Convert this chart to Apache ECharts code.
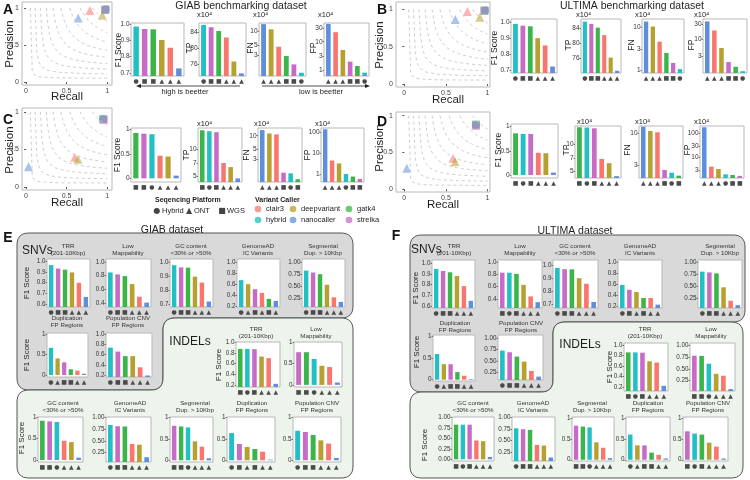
<!DOCTYPE html>
<html><head><meta charset="utf-8">
<script src="https://cdn.jsdelivr.net/npm/echarts@6/dist/echarts.min.js"></script>
<style>html,body{margin:0;padding:0;background:#fff}#c{width:750px;height:480px}</style>
</head><body><div id="c"></div>
<script>
// ================= DATA =================
const CALLERS = ['clair3','deepvariant','gatk4','hybrid','nanocaller','strelka'];
const CALLER_COLORS = ['#F8766D','#B5A030','#3AB54A','#22BFC5','#5F8FDB','#C86BC6'];
const CALLER_PLATFORM = ['ONT','ONT','WGS','Hybrid','ONT','WGS'];
const PLATFORMS = ['Hybrid','ONT','WGS'];
const PLATFORM_GLYPH = ['\u25CF','\u25B2','\u25A0'];
const PLATFORM_SYMBOL = ['circle','triangle','rect'];
const ISO_F1 = [0.1,0.2,0.3,0.4,0.5,0.6,0.7,0.8,0.9];
const PR_TICKS = [0,0.5,1];

// precision / recall (order = CALLERS)
const A_recall    = [0.787,0.940,0.975,0.985,0.643,0.980];
const A_precision = [0.964,0.900,0.972,0.985,0.864,0.978];
const B_recall    = [0.758,0.907,0.962,0.972,0.613,0.966];
const B_precision = [0.973,0.896,0.982,0.990,0.864,0.986];
const C_recall    = [0.600,0.640,0.952,0.948,0.030,0.958];
const C_precision = [0.396,0.370,0.905,0.900,0.270,0.890];
const D_recall    = [0.585,0.610,0.862,0.860,0.030,0.860];
const D_precision = [0.420,0.375,0.880,0.875,0.285,0.862];

// Panel A (GIAB)
const A_F1_order = ['hybrid','strelka','gatk4','deepvariant','clair3','nanocaller'];
const A_F1 = [0.986,0.971,0.969,0.903,0.855,0.727];
const A_F1_ticks = ['0.7','0.8','0.9','1.0'];
const A_TP_order = ['hybrid','strelka','gatk4','clair3','deepvariant','nanocaller'];
const A_TP = [85.8,85.25,84.3,82.7,76.7,73.75];
const A_TP_ticks = ['76','80','84'];
const A_FN_order = ['nanocaller','deepvariant','clair3','gatk4','strelka','hybrid'];
const A_FN = [14.1,10.9,4.6,2.9,1.92,1.27];
const A_FN_ticks = ['3','5','10'];
const A_FP_order = ['nanocaller','clair3','deepvariant','strelka','gatk4','hybrid'];
const A_FP = [42.7,21.7,5.1,1.97,1.38,0.8];
const A_FP_ticks = ['1','3','10','30'];
// Panel B (ULTIMA)
const B_F1_order = ['hybrid','strelka','gatk4','deepvariant','clair3','nanocaller'];
const B_F1 = [0.988,0.977,0.973,0.900,0.855,0.725];
const B_F1_ticks = ['0.7','0.8','0.9','1.0'];
const B_TP_order = ['hybrid','strelka','gatk4','clair3','deepvariant','nanocaller'];
const B_TP = [85.8,85.2,84.2,82.2,76.2,72.7];
const B_TP_ticks = ['76','80','84'];
const B_FN_order = ['nanocaller','deepvariant','clair3','gatk4','strelka','hybrid'];
const B_FN = [13.6,10.4,4.6,2.5,1.46,1.05];
const B_FN_ticks = ['1','3','10'];
const B_FP_order = ['nanocaller','clair3','deepvariant','strelka','gatk4','hybrid'];
const B_FP = [35.9,18.9,5.5,2.05,1.47,1.08];
const B_FP_ticks = ['3','10','30'];
// Panel C (GIAB)
const C_F1_order = ['gatk4','strelka','hybrid','clair3','deepvariant','nanocaller'];
const C_F1 = [0.925,0.912,0.900,0.460,0.445,0.055];
const C_F1_ticks = ['0','0.5','1'];
const C_TP_order = ['gatk4','hybrid','strelka','clair3','deepvariant','nanocaller'];
const C_TP = [16.4,16.0,15.6,7.0,6.3,4.7];
const C_TP_ticks = ['5','7','10'];
const C_FN_order = ['nanocaller','deepvariant','clair3','strelka','hybrid','gatk4'];
const C_FN = [13.3,11.2,10.7,1.53,1.48,1.1];
const C_FN_ticks = ['3','5','10'];
const C_FP_order = ['nanocaller','clair3','deepvariant','hybrid','gatk4','strelka'];
const C_FP = [139,4.5,3.3,1.04,0.78,0.6];
const C_FP_ticks = ['1','10','100'];
// Panel D (ULTIMA)
const D_F1_order = ['gatk4','hybrid','strelka','clair3','deepvariant','nanocaller'];
const D_F1 = [0.862,0.848,0.848,0.460,0.450,0.050];
const D_F1_ticks = ['0','0.5','1'];
const D_TP_order = ['gatk4','hybrid','strelka','clair3','deepvariant','nanocaller'];
const D_TP = [15.4,15.3,15.0,6.9,6.2,4.47];
const D_TP_ticks = ['5','7','10'];
const D_FN_order = ['nanocaller','deepvariant','clair3','strelka','hybrid','gatk4'];
const D_FN = [12.85,10.9,10.4,2.48,2.24,2.0];
const D_FN_ticks = ['3','10'];
const D_FP_order = ['nanocaller','clair3','deepvariant','hybrid','gatk4','strelka'];
const D_FP = [178,4.07,3.24,1.95,1.83,1.68];
const D_FP_ticks = ['3','10','30','100'];

// Panel E (GIAB stratified F1)
const STD_ORDER = ['hybrid','strelka','gatk4','deepvariant','clair3','nanocaller'];
const E_snv_trr_order = STD_ORDER;       const E_snv_trr = [0.962,0.930,0.920,0.894,0.797,0.666];
const E_snv_lowmap_order = STD_ORDER;    const E_snv_lowmap = [0.846,0.817,0.793,0.678,0.495,0.410];
const E_snv_gc_order = STD_ORDER;        const E_snv_gc = [0.980,0.964,0.962,0.898,0.855,0.720];
const E_snv_gnomad_order = ['hybrid','deepvariant','strelka','clair3','gatk4','nanocaller'];
const E_snv_gnomad = [0.667,0.594,0.503,0.436,0.327,0.290];
const E_snv_segdup_order = STD_ORDER;    const E_snv_segdup = [0.826,0.785,0.750,0.528,0.264,0.167];
const E_snv_dupfp_order = ['hybrid','deepvariant','strelka','gatk4','clair3','nanocaller'];
const E_snv_dupfp = [0.666,0.407,0.310,0.140,0.105,0.030];
const E_snv_popcnv_order = STD_ORDER;    const E_snv_popcnv = [0.737,0.660,0.570,0.570,0.350,0.190];
const E_indel_trr_order = ['gatk4','hybrid','strelka','deepvariant','clair3','nanocaller'];
const E_indel_trr = [0.880,0.880,0.875,0.735,0.705,0.220];
const E_indel_lowmap_order = ['strelka','gatk4','hybrid','deepvariant','clair3','nanocaller'];
const E_indel_lowmap = [0.770,0.770,0.610,0.450,0.420,0.055];
const E_indel_gc_order = ['gatk4','strelka','hybrid','clair3','deepvariant','nanocaller'];
const E_indel_gc = [0.920,0.905,0.890,0.450,0.420,0.055];
const E_indel_gnomad_order = ['hybrid','strelka','gatk4','clair3','deepvariant','nanocaller'];
const E_indel_gnomad = [0.843,0.815,0.810,0.430,0.415,0.143];
const E_indel_segdup_order = ['strelka','gatk4','hybrid','deepvariant','clair3','nanocaller'];
const E_indel_segdup = [0.806,0.790,0.767,0.442,0.318,0.047];
const E_indel_dupfp_order = ['hybrid','strelka','deepvariant','gatk4','clair3','nanocaller'];
const E_indel_dupfp = [0.635,0.380,0.310,0.264,0.200,0.016];
const E_indel_popcnv_order = ['hybrid','strelka','gatk4','deepvariant','clair3','nanocaller'];
const E_indel_popcnv = [0.690,0.660,0.590,0.465,0.390,0.054];

// Panel F (ULTIMA stratified F1)
const F_snv_trr_order = STD_ORDER;       const F_snv_trr = [0.946,0.927,0.915,0.880,0.785,0.647];
const F_snv_lowmap_order = ['strelka','hybrid','gatk4','deepvariant','clair3','nanocaller'];
const F_snv_lowmap = [0.830,0.830,0.810,0.630,0.440,0.345];
const F_snv_gc_order = STD_ORDER;        const F_snv_gc = [0.982,0.972,0.971,0.902,0.858,0.715];
const F_snv_gnomad_order = ['hybrid','strelka','deepvariant','gatk4','clair3','nanocaller'];
const F_snv_gnomad = [0.590,0.500,0.460,0.350,0.350,0.230];
const F_snv_segdup_order = STD_ORDER;    const F_snv_segdup = [0.806,0.790,0.770,0.480,0.200,0.110];
const F_snv_dupfp_order = ['hybrid','deepvariant','strelka','gatk4','clair3','nanocaller'];
const F_snv_dupfp = [0.590,0.357,0.357,0.175,0.090,0.015];
const F_snv_popcnv_order = STD_ORDER;    const F_snv_popcnv = [0.727,0.690,0.595,0.484,0.280,0.155];
const F_indel_trr_order = ['gatk4','hybrid','strelka','deepvariant','clair3','nanocaller'];
const F_indel_trr = [0.860,0.860,0.855,0.690,0.665,0.220];
const F_indel_lowmap_order = ['strelka','gatk4','hybrid','deepvariant','clair3','nanocaller'];
const F_indel_lowmap = [0.780,0.775,0.610,0.395,0.355,0.070];
const F_indel_gc_order = ['gatk4','hybrid','strelka','clair3','deepvariant','nanocaller'];
const F_indel_gc = [0.827,0.827,0.827,0.449,0.433,0.055];
const F_indel_gnomad_order = ['hybrid','strelka','gatk4','clair3','deepvariant','nanocaller'];
const F_indel_gnomad = [0.770,0.750,0.735,0.410,0.396,0.137];
const F_indel_segdup_order = ['strelka','gatk4','hybrid','deepvariant','clair3','nanocaller'];
const F_indel_segdup = [0.820,0.800,0.780,0.420,0.290,0.040];
const F_indel_dupfp_order = ['hybrid','deepvariant','strelka','gatk4','clair3','nanocaller'];
const F_indel_dupfp = [0.606,0.346,0.346,0.173,0.118,0.030];
const F_indel_popcnv_order = ['strelka','hybrid','gatk4','deepvariant','clair3','nanocaller'];
const F_indel_popcnv = [0.685,0.630,0.606,0.410,0.315,0.030];

const T_01 = ['0','0.5','1'];
const T_0110 = ['0.6','0.7','0.8','0.9','1.0'];
const T_0410 = ['0.4','0.6','0.8','1.0'];
const T_0710 = ['0.7','0.8','0.9','1.0'];
const T_0210 = ['0.2','0.4','0.6','0.8','1.0'];
const T_q = ['0.25','0.50','0.75','1.00'];
const T_q0 = ['0.00','0.25','0.50','0.75','1.00'];

// ================= BUILD =================
const FONT = 'Liberation Sans, Arial, Helvetica, sans-serif';
const grids = [], xAxes = [], yAxes = [], series = [], gfx = [];
function colorOf(c){ return CALLER_COLORS[CALLERS.indexOf(c)]; }
function platIdx(c){ return PLATFORMS.indexOf(CALLER_PLATFORM[CALLERS.indexOf(c)]); }
function addGrid(b){
  grids.push({left:b[0], top:b[1], width:b[2]-b[0], height:b[3]-b[1], show:true, backgroundColor:'#fff',
    borderColor:'#b8b8b8', borderWidth:1, containLabel:false, outerBoundsMode:'none'});
  return grids.length - 1;
}
function barChart(order, values, ticks, s){
  const g = addGrid(s.box);
  const W = s.box[2] - s.box[0], n = order.length;
  const base = s.log ? Math.log10(s.lim[0]) : 0;
  const tf = v => s.log ? Math.log10(v) - base : v;
  const tv = ticks.map(t => tf(parseFloat(t)));
  const pos = order.map((c, i) => i + 1);
  xAxes.push({gridIndex:g, type:'value', min:0.4, max:n + 0.6, splitLine:{show:false}, axisLine:{show:false}, axisTick:{show:false},
    axisLabel:{customValues:pos, margin:2.5, fontSize:6, color:'#4a4a4a', fontFamily:'DejaVu Sans',
      formatter:v => { const c = order[Math.round(v) - 1]; return c ? PLATFORM_GLYPH[platIdx(c)] : ''; }}});
  yAxes.push({gridIndex:g, type:'value', min:tf(s.lim[0]), max:tf(s.lim[1]), splitLine:{show:false}, axisLine:{show:false},
    axisTick:{show:true, length:1.5, customValues:tv, lineStyle:{color:'#555', width:0.8}},
    axisLabel:{customValues:tv, fontSize:s.fs||6.5, color:'#333', margin:1.5, fontFamily:FONT,
      formatter:v => { const i = tv.findIndex(t => Math.abs(t - v) < 1e-9); return i < 0 ? '' : ticks[i]; }}});
  series.push({type:'bar', xAxisIndex:g, yAxisIndex:g, barWidth:0.64 * W / (n + 0.2), clip:true, animation:false, silent:true,
    data:values.map((v, i) => ({value:[pos[i], tf(v)], itemStyle:{color:colorOf(order[i])}}))});
}
function prPanel(recall, precision, s){
  const g = addGrid(s.box);
  const ax = (r) => ({gridIndex:g, type:'value', min:r[0], max:r[1], splitLine:{show:false}, axisLine:{show:false},
    axisTick:{show:true, length:2, customValues:PR_TICKS, lineStyle:{color:'#555'}},
    axisLabel:{customValues:PR_TICKS, fontSize:7, color:'#444', margin:3, fontFamily:FONT, formatter:v => String(v)}});
  xAxes.push(ax(s.x)); yAxes.push(ax(s.y));
  ISO_F1.forEach(F => {
    const pts = []; const r0 = F / (2 - F);
    for (let k = 0; k <= 40; k++) { const r = r0 + (1 - r0) * k / 40; pts.push([r, F * r / (2 * r - F)]); }
    series.push({type:'line', xAxisIndex:g, yAxisIndex:g, data:pts, symbol:'none', showSymbol:false, silent:true, animation:false,
      lineStyle:{color:'#cdcdcd', width:1, type:[3,3]}});
  });
  series.push({type:'scatter', xAxisIndex:g, yAxisIndex:g, silent:true, animation:false,
    data:CALLERS.map((c,i) => { const p = platIdx(c); return {value:[recall[i], precision[i]], symbol:PLATFORM_SYMBOL[p],
      symbolSize: p === 1 ? 9 : 8, itemStyle:{color:CALLER_COLORS[i], opacity:0.55}}; })});
}
function T(x, y, text, o){
  o = o || {};
  const st = {text:text, fill:o.color || '#1e1e1e', fontSize:o.size || 7, fontFamily:o.family || FONT,
      fontWeight:o.bold ? 'bold' : 'normal', align:o.align || 'center', verticalAlign:o.va || 'middle',
      textAlign:o.align || 'center', textVerticalAlign:o.va || 'middle'};
  if (o.lh) st.lineHeight = o.lh;
  gfx.push({type:'text', x:x, y:y, rotation:o.rot || 0, z:50, silent:true, style:st});
}
// rounded polygon outline for the SNV / INDEL background blocks
function roundPoly(verts, r){
  const out = [], n = verts.length;
  for (let i = 0; i < n; i++) {
    const P = verts[(i + n - 1) % n], Vt = verts[i], N = verts[(i + 1) % n];
    const dp = Math.hypot(P[0]-Vt[0], P[1]-Vt[1]), dn = Math.hypot(N[0]-Vt[0], N[1]-Vt[1]);
    const A = [Vt[0] + (P[0]-Vt[0]) * r / dp, Vt[1] + (P[1]-Vt[1]) * r / dp];
    const B = [Vt[0] + (N[0]-Vt[0]) * r / dn, Vt[1] + (N[1]-Vt[1]) * r / dn];
    for (let k = 0; k <= 8; k++) { const t = k / 8, u = 1 - t;
      out.push([u*u*A[0] + 2*u*t*Vt[0] + t*t*B[0], u*u*A[1] + 2*u*t*Vt[1] + t*t*B[1]]); }
  }
  return out;
}
const V = Math.PI / 2;

// ---- Panels A-D ----
prPanel(A_recall, A_precision, {box:[22,2,112,85], x:[-0.05,1.06], y:[-0.04,1.08]});
prPanel(B_recall, B_precision, {box:[396,2,490,87], x:[-0.1,1.03], y:[-0.04,1.1]});
prPanel(C_recall, C_precision, {box:[22,108,112,190], x:[-0.05,1.06], y:[-0.04,1.05]});
prPanel(D_recall, D_precision, {box:[396,112,490,192], x:[-0.1,1.03], y:[-0.037,1.05]});

barChart(A_F1_order, A_F1, A_F1_ticks, {box:[131,23,184,76], lim:[0.68,1.008]});
barChart(A_TP_order, A_TP, A_TP_ticks, {box:[199,23,246,76], lim:[73.1,86.3]});
barChart(A_FN_order, A_FN, A_FN_ticks, {box:[259,23,306,76], lim:[1.08,14.9], log:true});
barChart(A_FP_order, A_FP, A_FP_ticks, {box:[324,23,369,76], lim:[0.61,46], log:true});

barChart(B_F1_order, B_F1, B_F1_ticks, {box:[511,19,557,73], lim:[0.685,1.018]});
barChart(B_TP_order, B_TP, B_TP_ticks, {box:[581,19,621,73], lim:[72.1,86.5]});
barChart(B_FN_order, B_FN, B_FN_ticks, {box:[642,19,684,73], lim:[0.85,15.6], log:true});
barChart(B_FP_order, B_FP, B_FP_ticks, {box:[703,19,747,73], lim:[0.95,42.4], log:true});

barChart(C_F1_order, C_F1, C_F1_ticks, {box:[131,128,181,182], lim:[-0.075,1.027]});
barChart(C_TP_order, C_TP, C_TP_ticks, {box:[198,128,242,182], lim:[4.28,17.4], log:true});
barChart(C_FN_order, C_FN, C_FN_ticks, {box:[258,128,302,182], lim:[0.955,14.8], log:true});
barChart(C_FP_order, C_FP, C_FP_ticks, {box:[321,128,364,182], lim:[0.43,160], log:true});

barChart(D_F1_order, D_F1, D_F1_ticks, {box:[511,124,558,178], lim:[-0.062,1.055]});
barChart(D_TP_order, D_TP, D_TP_ticks, {box:[575,126,621,178], lim:[4.26,15.9], log:true});
barChart(D_FN_order, D_FN, D_FN_ticks, {box:[639,126,683,178], lim:[1.83,13.2], log:true});
barChart(D_FP_order, D_FP, D_FP_ticks, {box:[700,126,744,178], lim:[1.37,201], log:true});

// ---- Panel E / F ----
const E_specs = [
  [E_snv_trr_order, E_snv_trr, T_0110, [47,259,90,307], [0.572,1.019], 'TRR\n(201-10Kbp)', 68, 250],
  [E_snv_lowmap_order, E_snv_lowmap, T_0410, [106,259,151,307], [0.347,1.04], 'Low\nMappability', 128, 250],
  [E_snv_gc_order, E_snv_gc, T_0710, [170,259,213,307], [0.681,1.024], 'GC content\n<30% or >50%', 191, 250],
  [E_snv_gnomad_order, E_snv_gnomad, T_0210, [237,259,280,307], [0.18,1.05], 'GenomeAD\nIC Variants', 258, 250],
  [E_snv_segdup_order, E_snv_segdup, T_q, [302,259,345,307], [0.06,1.07], 'Segmental\nDup. > 10Kbp', 323, 250],
  [E_snv_dupfp_order, E_snv_dupfp, T_01, [47,333,88,377], [-0.05,1.03], 'Duplication\nFP Regions', 67, 322],
  [E_snv_popcnv_order, E_snv_popcnv, T_0210, [106,333,152,377], [0.16,1.025], 'Population CNV\nFP Regions', 128, 322],
  [E_indel_trr_order, E_indel_trr, T_0210, [236,342,280,387], [0.16,1.01], 'TRR\n(201-10Kbp)', 256, 333],
  [E_indel_lowmap_order, E_indel_lowmap, T_01, [294,342,342,387], [-0.05,1.01], 'Low\nMappability', 316, 333],
  [E_indel_gc_order, E_indel_gc, T_01, [38,417,83,462], [-0.047,1.007], 'GC content\n<30% or >50%', 63, 407],
  [E_indel_gnomad_order, E_indel_gnomad, T_q, [106,417,151,462], [0.04,1.015], 'GenomeAD\nIC Variants', 130, 407],
  [E_indel_segdup_order, E_indel_segdup, T_01, [170,417,213,462], [-0.04,1.01], 'Segmental\nDup. > 10Kbp', 195, 407],
  [E_indel_dupfp_order, E_indel_dupfp, T_01, [227,417,275,462], [-0.04,1.01], 'Duplication\nFP Regions', 252, 407],
  [E_indel_popcnv_order, E_indel_popcnv, T_01, [293,417,341,462], [-0.04,1.01], 'Population CNV\nFP Regions', 317, 407]
];
const F_specs = [
  [F_snv_trr_order, F_snv_trr, T_0110, [432,260,475,308], [0.58,1.03], 'TRR\n(201-10Kbp)', 454, 250],
  [F_snv_lowmap_order, F_snv_lowmap, T_0410, [498,260,542,308], [0.25,1.038], 'Low\nMappability', 520, 250],
  [F_snv_gc_order, F_snv_gc, T_0710, [553,260,598,308], [0.668,1.044], 'GC content\n<30% or >50%', 575, 250],
  [F_snv_gnomad_order, F_snv_gnomad, T_0210, [618,260,662,308], [0.17,1.04], 'GenomeAD\nIC Variants', 640, 250],
  [F_snv_segdup_order, F_snv_segdup, T_q, [698,260,742,308], [0.05,1.048], 'Segmental\nDup. > 10Kbp', 720, 250],
  [F_snv_dupfp_order, F_snv_dupfp, T_01, [433,335,475,381], [-0.03,1.03], 'Duplication\nFP Regions', 455, 327],
  [F_snv_popcnv_order, F_snv_popcnv, T_q, [498,335,543,380], [0.08,1.07], 'Population CNV\nFP Regions', 521, 327],
  [F_indel_trr_order, F_indel_trr, T_0210, [624,343,668,391], [0.12,1.04], 'TRR\n(201-10Kbp)', 645, 333],
  [F_indel_lowmap_order, F_indel_lowmap, T_q, [690,343,735,391], [0.03,1.05], 'Low\nMappability', 711, 333],
  [F_indel_gc_order, F_indel_gc, T_q0, [452,417,494,461], [-0.04,1.01], 'GC content\n<30% or >50%', 473, 407],
  [F_indel_gnomad_order, F_indel_gnomad, T_q, [512,417,555,461], [0.06,1.015], 'GenomeAD\nIC Variants', 533, 407],
  [F_indel_segdup_order, F_indel_segdup, T_01, [572,417,614,461], [-0.03,1.03], 'Segmental\nDup. > 10Kbp', 592, 407],
  [F_indel_dupfp_order, F_indel_dupfp, T_01, [626,417,670,461], [-0.03,1.03], 'Duplication\nFP Regions', 648, 407],
  [F_indel_popcnv_order, F_indel_popcnv, T_01, [683,417,728,461], [-0.03,1.03], 'Population CNV\nFP Regions', 708, 407]
];
E_specs.concat(F_specs).forEach(s => {
  barChart(s[0], s[1], s[2], {box:s[3], lim:s[4], fs:6.3});
  T(s[6], s[7], s[5], {size:6.2, lh:7.5, color:'#333'});
});

// ---- backgrounds E / F ----
const BG = [
  [[[17,233],[353,233],[353,318],[163,318],[163,390],[17,390]], '#D9D9D9'],
  [[[163,318],[353,318],[353,478],[17,478],[17,390],[163,390]], '#EDF4EC'],
  [[[410,235],[745,235],[745,322],[553,322],[553,392],[410,392]], '#D9D9D9'],
  [[[553,322],[743,322],[743,478],[410,478],[410,392],[553,392]], '#EDF4EC']
];
BG.forEach(b => gfx.push({type:'polygon', z:-5, silent:true, shape:{points:roundPoly(b[0], 12)}, style:{fill:b[1], stroke:'#555', lineWidth:1}}));

// ---- texts ----
[['A',8,10],['B',382,10],['C',8,120],['D',382,122],['E',8,238],['F',396,236]].forEach(l => T(l[1], l[2], l[0], {size:14, bold:true, color:'#111'}));
T(241, 6, 'GIAB benchmarking dataset', {size:10.5});
T(632, 6, 'ULTIMA benchmarking dataset', {size:10.5});
T(172, 230, 'GIAB dataset', {size:10.5});
T(575, 231, 'ULTIMA dataset', {size:10.5});
[[10,44,67,97],[380,45,448,100],[10,150,67,203],[380,148,443,205]].forEach(p => {
  T(p[0], p[1], 'Precision', {size:11.5, rot:V}); T(p[2], p[3], 'Recall', {size:11.5});
});
const YN = [[119,50,190,48,251,48,314,48],[495,48,569,45,632,45,692,45],[118,155,187,155,247,155,308,155],[499,150,567,150,628,150,688,150]];
YN.forEach(r => { T(r[0], r[1], 'F1 Score', {size:8.5, rot:V}); T(r[2], r[3], 'TP', {size:8.5, rot:V});
  T(r[4], r[5], 'FN', {size:8.5, rot:V}); T(r[6], r[7], 'FP', {size:8.5, rot:V}); });
[[197,15],[253,15],[318,15],[576,15],[635,15],[694,15],[197,124],[254,124],[315,124],[577,122],[635,122],[694,122]].forEach(p =>
  T(p[0], p[1], 'x10\u2074', {size:7.5, align:'left'}));
gfx.push({type:'polyline', z:50, silent:true, shape:{points:[[140,86],[240,86]]}, style:{stroke:'#222', lineWidth:0.8}});
gfx.push({type:'polygon', z:50, silent:true, shape:{points:[[136,86],[141,84],[141,88]]}, style:{fill:'#222'}});
gfx.push({type:'polyline', z:50, silent:true, shape:{points:[[262,86],[366,86]]}, style:{stroke:'#222', lineWidth:0.8}});
gfx.push({type:'polygon', z:50, silent:true, shape:{points:[[370,86],[365,84],[365,88]]}, style:{fill:'#222'}});
T(185, 92, 'high is beetter', {size:7.5});
T(321, 92, 'low is beetter', {size:7.5});
T(22, 251, 'SNVs', {size:12, align:'left'});
T(411, 250, 'SNVs', {size:12, align:'left'});
T(190, 342, 'INDELs', {size:12});
T(580, 345, 'INDELs', {size:12});
[[27,283],[27,355],[219,365],[22,438],[416,288],[417,352],[610,367],[425,445]].forEach(p => T(p[0], p[1], 'F1 Score', {size:8, rot:V}));
// legend
T(155, 200, 'Seqencing Platform', {size:7, bold:true, align:'left'});
T(255, 200, 'Variant Caller', {size:7, bold:true, align:'left'});
const platX = [157, 189, 222];
PLATFORMS.forEach((p, i) => {
  T(platX[i], 211, PLATFORM_GLYPH[i], {size:8, family:'DejaVu Sans', color:'#444'});
  T(platX[i] + 5, 211, p, {size:7.5, align:'left'});
});
const legX = [258, 293, 349];
CALLERS.forEach((c, i) => {
  const x = legX[i % 3], y = i < 3 ? 209 : 220;
  gfx.push({type:'circle', z:50, silent:true, shape:{cx:x, cy:y, r:3.3}, style:{fill:CALLER_COLORS[i], opacity:0.75}});
  T(x + 8, y, c, {size:7.5, align:'left'});
});

const chart = echarts.init(document.getElementById('c'), null, {renderer:'canvas'});
chart.setOption({animation:false, backgroundColor:'#fff', grid:grids, xAxis:xAxes, yAxis:yAxes, series:series, graphic:{elements:gfx}});
</script></body></html>
